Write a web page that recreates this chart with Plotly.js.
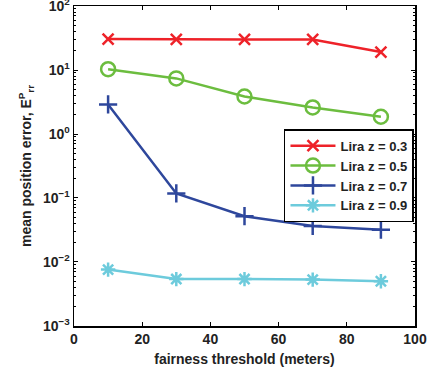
<!DOCTYPE html>
<html><head><meta charset="utf-8">
<script src="https://cdn.plot.ly/plotly-3.0.1.min.js"></script>
<style>html,body{margin:0;padding:0;background:#fff}#chart{width:427px;height:375px}</style>
</head><body><div id="chart"></div>
<script>
const thresholds = [10, 30, 50, 70, 90];
const liraZ03 = [30.5, 30.0, 30.0, 30.0, 19.1];
const liraZ05 = [10.3, 7.4, 3.85, 2.6, 1.86];
const liraZ07 = [2.9, 0.118, 0.052, 0.0366, 0.032];
const liraZ09 = [0.0076, 0.0054, 0.0054, 0.0053, 0.0050];
const seriesNames = ['Lira z = 0.3', 'Lira z = 0.5', 'Lira z = 0.7', 'Lira z = 0.9'];
const yTickVals = [0.001, 0.01, 0.1, 1, 10, 100];
const yTickText = ['10<sup>−3</sup>', '10<sup>−2</sup>', '10<sup>−1</sup>', '10<sup>0</sup>', '10<sup>1</sup>', '10<sup>2</sup>'];
const yTitle = 'mean position error, E<sup>P</sup><sub>rr</sub>';
const xTitle = 'fairness threshold (meters)';

const colors = ['#ee2229', '#6cbd3f', '#2e479c', '#6dcbdc'];
const symbols = ['x-thin-open', 'circle-open', 'cross-thin-open', 'asterisk-open'];
const sizes = [11, 14, 13, 12];
const ys = [liraZ03, liraZ05, liraZ07, liraZ09];

const traces = ys.map((y, i) => ({
  x: thresholds, y: y, name: seriesNames[i], type: 'scatter', mode: 'lines+markers',
  line: {color: colors[i], width: 2.5},
  marker: {symbol: symbols[i], size: sizes[i], color: colors[i], line: {color: colors[i], width: 2.5}}
}));

const bold = {family: 'Liberation Sans, Arial, sans-serif', size: 14, color: '#222', weight: 'bold'};

const layout = {
  width: 427, height: 375,
  margin: {l: 74, r: 12, t: 6, b: 49, autoexpand: false},
  paper_bgcolor: '#fff', plot_bgcolor: '#fff',
  showlegend: true,
  legend: {x: 0.997, xanchor: 'right', y: 0.615, yanchor: 'top',
    bgcolor: '#fff', bordercolor: '#000', borderwidth: 1.5,
    font: {family: 'Liberation Sans, Arial, sans-serif', size: 13, color: '#222', weight: 'bold'},
    tracegroupgap: 0, itemwidth: 45},
  xaxis: {range: [0, 100], dtick: 20, tick0: 0, showgrid: false, zeroline: false,
    showline: true, linecolor: '#000', linewidth: 1.5, mirror: 'ticks',
    ticks: 'inside', ticklen: 4, tickcolor: '#000', tickfont: bold, ticklabeloverflow: 'allow',
    title: {text: xTitle, font: bold, standoff: 8}},
  yaxis: {type: 'log', range: [-3.0005, 2.0005], tickvals: yTickVals, ticktext: yTickText,
    showgrid: false, zeroline: false, ticklabeloverflow: 'allow',
    showline: true, linecolor: '#000', linewidth: 1.5, mirror: 'ticks',
    ticks: 'inside', ticklen: 4, tickcolor: '#000', tickfont: bold,
    minor: {ticks: 'inside', ticklen: 2, tickcolor: '#000', dtick: 'D1', showgrid: false}},
  annotations: [{text: yTitle, textangle: -90, xref: 'paper', yref: 'paper',
    x: 0, xshift: -48, y: 0.5, xanchor: 'center', yanchor: 'middle',
    showarrow: false, font: bold}]
};

Plotly.newPlot('chart', traces, layout, {displayModeBar: false, staticPlot: true});
</script></body></html>
